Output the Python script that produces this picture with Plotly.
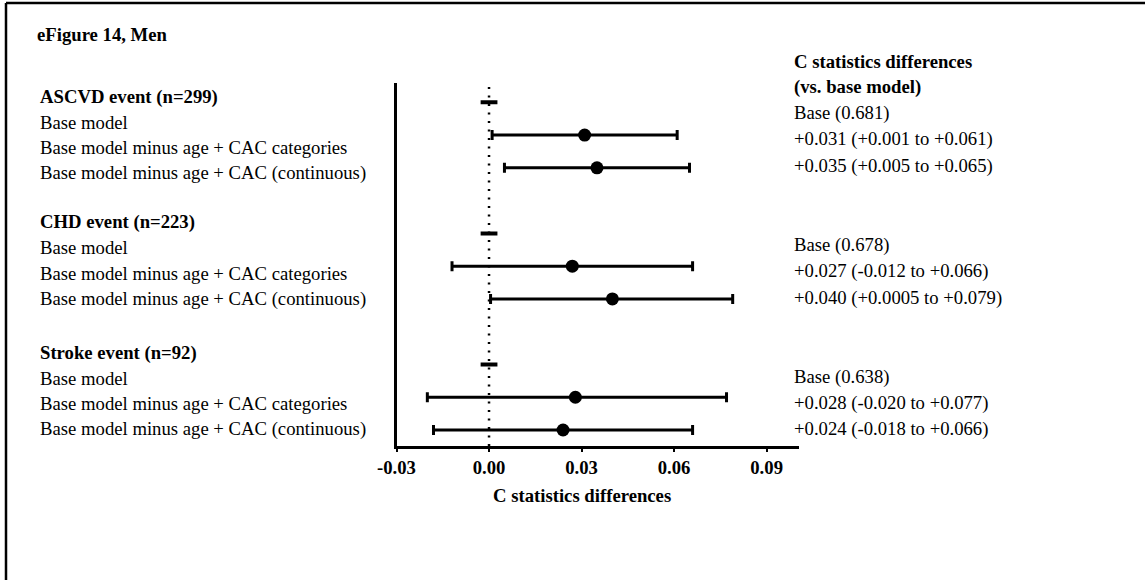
import plotly.graph_objects as go

W, H = 1145, 580

# ---- data ----
groups = ["ASCVD event (n=299)", "CHD event (n=223)", "Stroke event (n=92)"]
models = ["Base model", "Base model minus age + CAC categories",
          "Base model minus age + CAC (continuous)"]
base_c = ["0.681", "0.678", "0.638"]
cat_diff = [0.031, 0.027, 0.028]
cat_lo = [0.001, -0.012, -0.020]
cat_hi = [0.061, 0.066, 0.077]
cont_diff = [0.035, 0.040, 0.024]
cont_lo = [0.005, 0.0005, -0.018]
cont_hi = [0.065, 0.079, 0.066]
cat_text = ["+0.031 (+0.001 to +0.061)", "+0.027 (-0.012 to +0.066)", "+0.028 (-0.020 to +0.077)"]
cont_text = ["+0.035 (+0.005 to +0.065)", "+0.040 (+0.0005 to +0.079)", "+0.024 (-0.018 to +0.066)"]
tick_vals = [-0.03, 0.0, 0.03, 0.06, 0.09]
tick_text = ["-0.03", "0.00", "0.03", "0.06", "0.09"]

FONT = "Liberation Serif"
FS = 18.7

def px(x):
    return x / W

def py(y):
    return 1 - y / H

fig = go.Figure()

base_x, base_y = [], []
pt_x, pt_y, em, ep = [], [], [], []
for g in range(3):
    base_x.append(0.0)
    base_y.append(g * 4)
    for d, lo, hi, m in [(cat_diff[g], cat_lo[g], cat_hi[g], 1),
                         (cont_diff[g], cont_lo[g], cont_hi[g], 2)]:
        pt_x.append(d)
        pt_y.append(g * 4 + m)
        em.append(d - lo)
        ep.append(hi - d)

fig.add_trace(go.Scatter(
    x=pt_x, y=pt_y, mode="markers",
    marker=dict(symbol="circle", size=13, color="black"),
    error_x=dict(type="data", array=ep, arrayminus=em, color="black",
                 thickness=3, width=5),
    showlegend=False, hoverinfo="skip"))

fig.add_trace(go.Scatter(
    x=base_x, y=base_y, mode="markers",
    marker=dict(symbol="line-ew", size=12, color="black",
                line=dict(color="black", width=4)),
    showlegend=False, hoverinfo="skip"))

fig.add_shape(type="line", xref="x", yref="y domain", x0=0, x1=0, y0=0, y1=1,
              line=dict(color="black", width=2.5, dash="2px,6.5px"), layer="below")

ax_l, ax_r, ax_t, ax_b = 396.5, 799, 83, 446
fig.update_layout(
    width=W, height=H,
    margin=dict(l=0, r=0, t=0, b=0, pad=0, autoexpand=False),
    paper_bgcolor="white", plot_bgcolor="white",
    xaxis=dict(domain=[px(ax_l), px(ax_r)], range=[-0.03, 0.1005],
               showgrid=False, zeroline=False, showline=True,
               linecolor="black", linewidth=3,
               ticks="outside", ticklen=3, tickwidth=2, tickcolor="black",
               tickvals=tick_vals, ticktext=tick_text,
               tickfont=dict(family=FONT, size=FS, color="black", weight="bold")),
    yaxis=dict(domain=[py(ax_b), py(ax_t)], range=[10.488, -0.589],
               showgrid=False, zeroline=False, showline=True,
               linecolor="black", linewidth=3, showticklabels=False, ticks=""),
    font=dict(family=FONT, size=FS, color="black"),
)

anns = []

def txt(x, y, s, bold=False, xanchor="left"):
    xoff = -2 if xanchor == "left" else 0
    anns.append(dict(x=px(x + xoff), y=py(y), xref="paper", yref="paper",
                     text=("<b>%s</b>" % s) if bold else s, showarrow=False,
                     xanchor=xanchor, yanchor="middle",
                     font=dict(family=FONT, size=FS, color="black")))

txt(37, 35, "eFigure 14, Men", bold=True)

left_starts = [96.7, 222.5, 352.5]
right_starts = [113, 245, 376.5]
for g in range(3):
    y0 = left_starts[g]
    txt(40, y0, groups[g], bold=True)
    for m in range(3):
        txt(40, y0 + 25.5 * (m + 1), models[m])
    r0 = right_starts[g]
    txt(794, r0, "Base (%s)" % base_c[g])
    txt(794, r0 + 26.3, cat_text[g])
    txt(794, r0 + 26.3 * 2, cont_text[g])

txt(794, 61, "C statistics differences", bold=True)
txt(794, 87, "(vs. base model)", bold=True)
txt(581.5, 495, "C statistics differences", bold=True, xanchor="center")

fig.update_layout(annotations=anns)

fig.add_shape(type="line", xref="paper", yref="paper", x0=px(6), x1=1, y0=py(3), y1=py(3),
              line=dict(color="black", width=2.5))
fig.add_shape(type="line", xref="paper", yref="paper", x0=px(6), x1=px(6), y0=py(3), y1=0,
              line=dict(color="black", width=2.5))

fig.write_html("out.html")
